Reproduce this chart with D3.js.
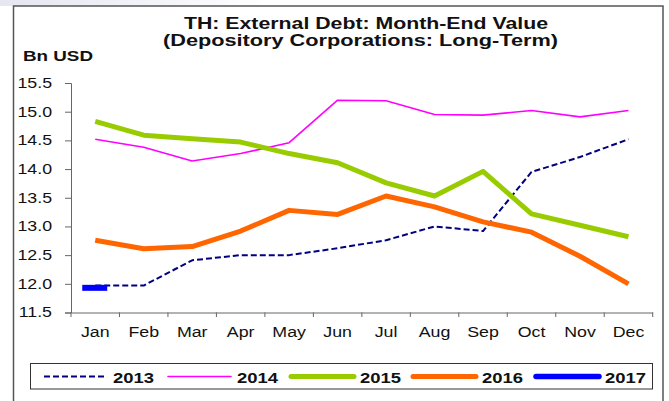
<!DOCTYPE html>
<html lang="en">
<head>
<meta charset="UTF-8">
<title>TH: External Debt</title>
<script src="https://cdnjs.cloudflare.com/ajax/libs/d3/7.8.5/d3.min.js"></script>
<style>
  body { margin: 0; background: #fff; }
  svg { display: block; font-family: "Liberation Sans", Arial, sans-serif; }
</style>
</head>
<body>
<svg id="chart" width="669" height="401"></svg>
<script>
const months = ["Jan", "Feb", "Mar", "Apr", "May", "Jun", "Jul", "Aug", "Sep", "Oct", "Nov", "Dec"];
const yTicks = [11.5, 12.0, 12.5, 13.0, 13.5, 14.0, 14.5, 15.0, 15.5];
const years = ["2013", "2014", "2015", "2016", "2017"];

const v2013 = [11.97, 11.97, 12.41, 12.50, 12.50, 12.62, 12.76, 13.00, 12.92, 13.95, 14.21, 14.52];
const v2014 = [14.52, 14.38, 14.14, 14.27, 14.46, 15.20, 15.19, 14.95, 14.94, 15.02, 14.91, 15.02];
const v2015 = [14.83, 14.59, 14.53, 14.47, 14.27, 14.11, 13.76, 13.53, 13.96, 13.22, 13.02, 12.82];
const v2016 = [12.76, 12.61, 12.65, 12.92, 13.28, 13.21, 13.53, 13.34, 13.08, 12.90, 12.48, 12.00];
const v2017 = [11.93];

const series = [
  { name: "2013", values: v2013, color: "#000080", width: 2, dash: "6,3" },
  { name: "2014", values: v2014, color: "#ff00ff", width: 1.6, dash: null },
  { name: "2015", values: v2015, color: "#99cc00", width: 5, dash: null },
  { name: "2016", values: v2016, color: "#ff6600", width: 5, dash: null },
  { name: "2017", values: v2017, color: "#0000ff", width: 5.5, dash: null }
];

// the source picture is stretched sideways, so text gets widened too
const SX = 1.27;
function stretch(sel) {
  sel.each(function () {
    const w = this.getComputedTextLength();
    d3.select(this).attr("textLength", w * SX).attr("lengthAdjust", "spacingAndGlyphs");
  });
}
function fitTo(sel, w) {
  sel.attr("textLength", w).attr("lengthAdjust", "spacingAndGlyphs");
}

const svg = d3.select("#chart");

// faint smudge in the top-left corner
const grad = svg.append("defs").append("linearGradient").attr("id", "fade");
grad.append("stop").attr("offset", "0%").attr("stop-color", "#e4e6f0");
grad.append("stop").attr("offset", "100%").attr("stop-color", "#ffffff");
svg.append("rect").attr("x", 0).attr("y", 0).attr("width", 270).attr("height", 6).attr("fill", "url(#fade)");

// outer frame
svg.append("rect")
  .attr("x", 13.5).attr("y", 6).attr("width", 649.5).attr("height", 410)
  .attr("fill", "#fff").attr("stroke", "#555").attr("stroke-width", 1.5);

const x = d3.scaleBand().domain(months).range([71, 652.7]);
const y = d3.scaleLinear().domain([11.5, 15.5]).range([312.5, 83]);
const cx = m => x(m) + x.bandwidth() / 2;

// title
svg.append("text").attr("x", 184).attr("y", 28.5)
  .attr("font-size", 16).attr("font-weight", "bold").attr("fill", "#111")
  .text("TH: External Debt: Month-End Value").call(fitTo, 364);
svg.append("text").attr("x", 163).attr("y", 46)
  .attr("font-size", 16).attr("font-weight", "bold").attr("fill", "#111")
  .text("(Depository Corporations: Long-Term)").call(fitTo, 395);

svg.append("text").attr("x", 23).attr("y", 61)
  .attr("font-size", 15).attr("font-weight", "bold").attr("fill", "#111")
  .text("Bn USD").call(fitTo, 70);

// y axis
const yAxis = svg.append("g").attr("transform", "translate(71,0)")
  .call(d3.axisLeft(y).tickValues(yTicks).tickFormat(d3.format(".1f")).tickSize(6).tickPadding(13));
yAxis.select(".domain").attr("stroke", "#666");
yAxis.selectAll(".tick line").attr("stroke", "#666");
yAxis.selectAll("text").attr("font-size", 14).attr("font-family", "Liberation Sans, Arial, sans-serif")
  .attr("fill", "#111").call(stretch);

// x axis
const xAxis = svg.append("g").attr("transform", "translate(0,312.5)")
  .call(d3.axisBottom(x).tickSize(0).tickPadding(15));
xAxis.select(".domain").attr("stroke", "#666");
xAxis.selectAll("text").attr("font-size", 14).attr("font-family", "Liberation Sans, Arial, sans-serif")
  .attr("fill", "#111").call(stretch);
svg.append("g").selectAll("line")
  .data(d3.range(months.length + 1))
  .join("line")
  .attr("x1", i => x.range()[0] + i * x.step())
  .attr("x2", i => x.range()[0] + i * x.step())
  .attr("y1", 312.5).attr("y2", 317)
  .attr("stroke", "#666");

// lines
const line = d3.line().x((d, i) => cx(months[i])).y(d => y(d));
series.filter(s => s.values.length > 1).forEach(s => {
  svg.append("path")
    .datum(s.values)
    .attr("d", line)
    .attr("fill", "none")
    .attr("stroke", s.color)
    .attr("stroke-width", s.width)
    .attr("stroke-linejoin", "round")
    .attr("stroke-dasharray", s.dash);
});

// 2017 has only January: drawn as a short flat marker
svg.append("g").selectAll("line")
  .data(v2017)
  .join("line")
  .attr("x1", (d, i) => cx(months[i]) - 13)
  .attr("x2", (d, i) => cx(months[i]) + 12)
  .attr("y1", d => y(d)).attr("y2", d => y(d))
  .attr("stroke", "#0000ff").attr("stroke-width", 6);

// legend
svg.append("rect")
  .attr("x", 30.5).attr("y", 363.5).attr("width", 622).attr("height", 25.5)
  .attr("fill", "#fff").attr("stroke", "#333").attr("stroke-width", 1);

const legendX = [44, 168, 291, 413, 536];
const lg = svg.append("g").selectAll("g")
  .data(series)
  .join("g")
  .attr("transform", (d, i) => `translate(${legendX[i]},376.5)`);
lg.append("line")
  .attr("x1", 0).attr("x2", 63)
  .attr("stroke", d => d.color)
  .attr("stroke-width", d => d.width)
  .attr("stroke-linecap", d => d.dash ? "butt" : "round")
  .attr("stroke-dasharray", d => d.dash);
lg.append("text")
  .attr("x", 69).attr("y", 6)
  .attr("font-size", 15).attr("font-weight", "bold").attr("fill", "#111")
  .text(d => d.name)
  .call(fitTo, 41);
</script>
</body>
</html>
